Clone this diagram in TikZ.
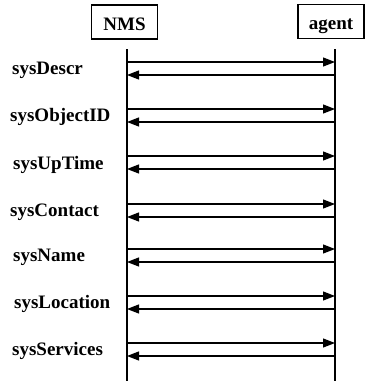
\documentclass[tikz,border=0pt]{standalone}
\usepackage{fontspec}
\setmainfont{Liberation Serif}
\usetikzlibrary{arrows.meta,positioning}

\begin{document}
\begin{tikzpicture}[x=1pt,y=-1pt,
    every node/.style={font=\bfseries\fontsize{19}{21}\selectfont},
    entity/.style={draw, line width=1.2pt, minimum width=66pt, minimum height=34pt, inner sep=0pt, text height=16pt, text depth=0pt},
    obj/.style={anchor=west, inner sep=0pt},
    life/.style={line width=1.2pt},
    msg/.style={line width=1.2pt, -{Triangle[length=12pt,width=9pt]}}]
        \useasboundingbox (0,0) rectangle (371,381);

        \node[entity] (nms) at (124.5,22) {NMS};
        \node[entity] (agent) at (331,21.5) {agent};
        \coordinate (nt) at (127,49);
        \coordinate (nb) at (127,381);
        \coordinate (at) at (335,49);
        \coordinate (ab) at (335,381);
        \draw[life] (nt) -- (nb);
        \draw[life] (at) -- (ab);

        \node[obj] (o1) at (12,70) {sysDescr};
        \node[obj] (o2) at (10,117) {sysObjectID};
        \node[obj] (o3) at (13,165) {sysUpTime};
        \node[obj] (o4) at (10,212) {sysContact};
        \node[obj] (o5) at (13,257) {sysName};
        \node[obj] (o6) at (14,304) {sysLocation};
        \node[obj] (o7) at (12,351) {sysServices};

        \coordinate (n1) at (127,62);   \coordinate (a1) at (335,62);
        \coordinate (m1) at (127,75);   \coordinate (b1) at (335,75);
        \coordinate (n2) at (127,109);  \coordinate (a2) at (335,109);
        \coordinate (m2) at (127,122);  \coordinate (b2) at (335,122);
        \coordinate (n3) at (127,156);  \coordinate (a3) at (335,156);
        \coordinate (m3) at (127,169);  \coordinate (b3) at (335,169);
        \coordinate (n4) at (127,204);  \coordinate (a4) at (335,204);
        \coordinate (m4) at (127,217);  \coordinate (b4) at (335,217);
        \coordinate (n5) at (127,249);  \coordinate (a5) at (335,249);
        \coordinate (m5) at (127,262);  \coordinate (b5) at (335,262);
        \coordinate (n6) at (127,296);  \coordinate (a6) at (335,296);
        \coordinate (m6) at (127,309);  \coordinate (b6) at (335,309);
        \coordinate (n7) at (127,343);  \coordinate (a7) at (335,343);
        \coordinate (m7) at (127,356);  \coordinate (b7) at (335,356);

        \draw[msg] (n1) -- (a1);
        \draw[msg] (b1) -- (m1);
        \draw[msg] (n2) -- (a2);
        \draw[msg] (b2) -- (m2);
        \draw[msg] (n3) -- (a3);
        \draw[msg] (b3) -- (m3);
        \draw[msg] (n4) -- (a4);
        \draw[msg] (b4) -- (m4);
        \draw[msg] (n5) -- (a5);
        \draw[msg] (b5) -- (m5);
        \draw[msg] (n6) -- (a6);
        \draw[msg] (b6) -- (m6);
        \draw[msg] (n7) -- (a7);
        \draw[msg] (b7) -- (m7);
\end{tikzpicture}
\end{document}
